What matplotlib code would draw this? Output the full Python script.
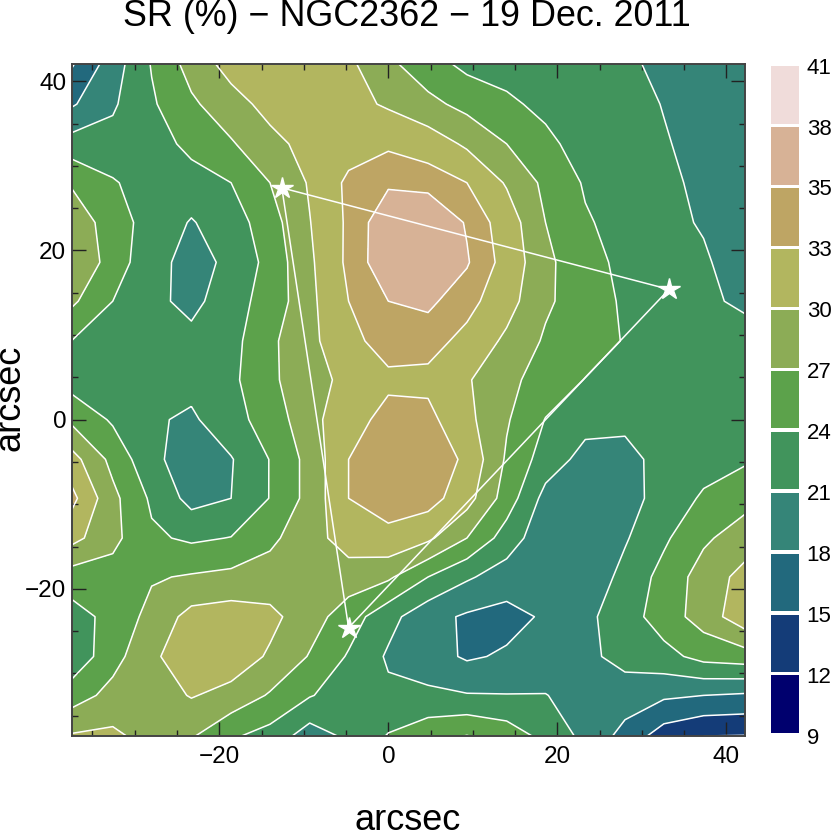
import numpy as np
import matplotlib
matplotlib.use("Agg")
import matplotlib.pyplot as plt
from matplotlib.ticker import MultipleLocator

plt.rcParams['font.family'] = ['Liberation Sans', 'DejaVu Sans']

# grid in arcsec, the outer nodes pushed out to the frame
x_nodes = [-37.5, -32.6, -28.0, -23.3, -18.6, -14.0, -9.3, -4.7, 0.0, 4.7, 9.3, 14.0, 18.6, 23.3, 28.0, 32.6, 37.3, 42.2]
y_nodes = [42.1, 37.3, 32.6, 28.0, 23.3, 18.6, 14.0, 9.3, 4.7, 0.0, -4.7, -9.3, -14.0, -18.6, -23.3, -28.0, -32.6, -37.4]

# SR values, top row first
sr = [
    [14.6, 19.5, 24.2, 28.2, 31.2, 32.0, 32.3, 30.6, 27.6, 25.2, 23.2, 22.7, 22.4, 22.0, 21.3, 20.6, 20.2, 20.0],
    [17.6, 20.6, 23.6, 26.5, 28.8, 31.0, 31.8, 31.0, 29.6, 27.8, 26.1, 24.6, 23.2, 22.7, 21.9, 20.9, 20.0, 19.5],
    [22.3, 22.0, 22.3, 25.0, 26.7, 29.1, 31.0, 31.7, 32.6, 31.7, 29.5, 27.0, 24.8, 22.6, 22.0, 21.2, 20.2, 19.6],
    [26.7, 24.3, 22.5, 22.5, 24.0, 27.0, 30.3, 33.6, 34.7, 34.3, 33.0, 29.7, 26.3, 23.7, 22.8, 21.7, 20.3, 19.6],
    [29.0, 25.5, 22.7, 20.8, 22.5, 25.7, 29.9, 33.5, 36.5, 37.0, 34.8, 31.7, 27.0, 24.3, 23.0, 21.6, 20.8, 19.8],
    [30.1, 25.6, 22.0, 20.0, 21.6, 25.0, 29.5, 33.6, 36.5, 37.0, 35.2, 32.1, 27.7, 25.0, 23.3, 22.4, 21.3, 19.8],
    [27.6, 24.0, 21.9, 20.0, 23.0, 25.0, 29.3, 33.0, 35.0, 35.4, 33.9, 31.2, 27.5, 25.4, 23.6, 22.4, 21.6, 20.4],
    [24.0, 22.5, 21.9, 22.0, 23.0, 26.4, 29.2, 32.3, 34.0, 34.0, 32.2, 29.4, 26.6, 25.5, 23.8, 22.6, 22.0, 22.3],
    [22.7, 22.3, 22.0, 22.0, 23.3, 26.5, 28.6, 31.0, 32.5, 32.3, 30.3, 27.8, 25.7, 23.9, 23.0, 22.5, 21.8, 22.0],
    [26.4, 23.6, 21.4, 20.5, 23.0, 25.2, 29.0, 32.0, 33.8, 33.8, 30.8, 27.3, 23.9, 22.0, 22.0, 22.0, 22.0, 22.2],
    [31.2, 26.1, 21.8, 19.3, 20.8, 24.1, 28.0, 33.0, 34.4, 35.0, 32.4, 26.6, 22.6, 20.0, 19.6, 22.5, 22.8, 23.6],
    [33.9, 27.8, 23.5, 20.0, 21.0, 24.1, 28.0, 33.0, 34.0, 34.2, 31.2, 25.6, 20.0, 19.6, 19.8, 22.2, 24.4, 26.0],
    [31.0, 27.8, 24.5, 23.5, 24.1, 26.4, 28.7, 31.5, 32.4, 30.6, 27.0, 22.6, 19.0, 19.3, 20.7, 23.5, 26.5, 28.5],
    [25.5, 25.8, 26.7, 27.3, 27.8, 28.2, 28.0, 28.5, 27.5, 24.0, 21.4, 19.6, 19.0, 18.9, 21.9, 25.0, 28.3, 31.0],
    [22.8, 24.9, 28.0, 31.0, 31.5, 30.8, 28.3, 25.5, 22.0, 19.0, 17.6, 17.0, 18.4, 20.3, 22.6, 25.5, 28.3, 32.0],
    [21.8, 25.9, 29.4, 32.0, 31.8, 29.6, 26.8, 23.7, 20.6, 19.3, 17.6, 18.4, 19.0, 20.3, 22.0, 23.0, 25.0, 25.6],
    [25.5, 28.0, 28.5, 30.2, 29.0, 26.7, 24.2, 22.5, 21.6, 21.6, 21.2, 21.1, 21.1, 19.7, 19.5, 18.5, 18.0, 17.6],
    [30.3, 30.6, 28.9, 27.3, 24.4, 22.9, 19.5, 21.6, 24.2, 26.0, 27.1, 25.7, 23.1, 20.2, 17.0, 13.5, 12.0, 11.9],
]

levels = [9, 12, 15, 18, 21, 24, 27, 30, 33, 35, 38, 41]
band_colors = ['#00006e', '#143c78', '#22697d', '#358578', '#41945c', '#5ca24b',
               '#8cac56', '#b2b65f', '#bea564', '#d7b296', '#f0dcda']

star_x = [-12.6, 33.2, -4.7]
star_y = [27.4, 15.4, -24.6]

W, H = 831, 833
fig = plt.figure(figsize=(W / 100, H / 100), dpi=100)

# main panel
ax = fig.add_axes([71.7 / W, 1 - 736 / H, (745 - 71.7) / W, (736 - 63.5) / H])
ax.contourf(x_nodes, y_nodes, sr, levels=levels, colors=band_colors)
ax.contour(x_nodes, y_nodes, sr, levels=levels, colors='white', linewidths=1.1, linestyles='solid')

# triangle between the guide stars
ax.plot(star_x + star_x[:1], star_y + star_y[:1], color='white', lw=1.1, zorder=4)
ax.plot(star_x, star_y, ls='none', marker='*', ms=16, color='white', mec='white', mew=1, zorder=5)

ax.set_xlim(-37.46, 42.2)
ax.set_ylim(-37.4, 42.1)
ax.xaxis.set_major_locator(MultipleLocator(20))
ax.yaxis.set_major_locator(MultipleLocator(20))
ax.xaxis.set_minor_locator(MultipleLocator(5))
ax.yaxis.set_minor_locator(MultipleLocator(5))
ax.tick_params(which='major', direction='in', top=True, right=True, length=10, width=1, labelsize=17.5, color='#222222')
ax.tick_params(axis='x', which='major', pad=7)
ax.tick_params(axis='y', which='major', pad=4)
ax.tick_params(which='minor', direction='in', top=True, right=True, length=4.5, width=1, color='#222222')
for s in ax.spines.values():
    s.set_linewidth(1.4)
    s.set_color('#444444')

fig.text(408 / W, 1 - 820 / H, 'arcsec', fontsize=26, ha='center', va='center')
fig.text(10 / W, 1 - 398 / H, 'arcsec', fontsize=26, ha='center', va='center', rotation=90)
fig.text(407 / W, 1 - 16 / H, 'SR (%) \u2212 NGC2362 \u2212 19 Dec. 2011', fontsize=25.8, ha='center', va='center')

# colour bar, one block per band with a small white gap
cax = fig.add_axes([771 / W, 1 - 735.7 / H, 28 / W, (735.7 - 65.6) / H])
for i, c in enumerate(band_colors):
    cax.bar(0, 0.945, bottom=i + 0.044, width=1, color=c)
cax.set_xlim(-0.5, 0.5)
cax.set_ylim(0, len(band_colors))
cax.set_xticks([])
cax.yaxis.tick_right()
cax.set_yticks(range(len(levels)))
cax.set_yticklabels([str(v) for v in levels])
cax.tick_params(axis='y', length=0, pad=5.5, labelsize=16)
for s in cax.spines.values():
    s.set_visible(False)

fig.savefig('out.png', dpi=100)
